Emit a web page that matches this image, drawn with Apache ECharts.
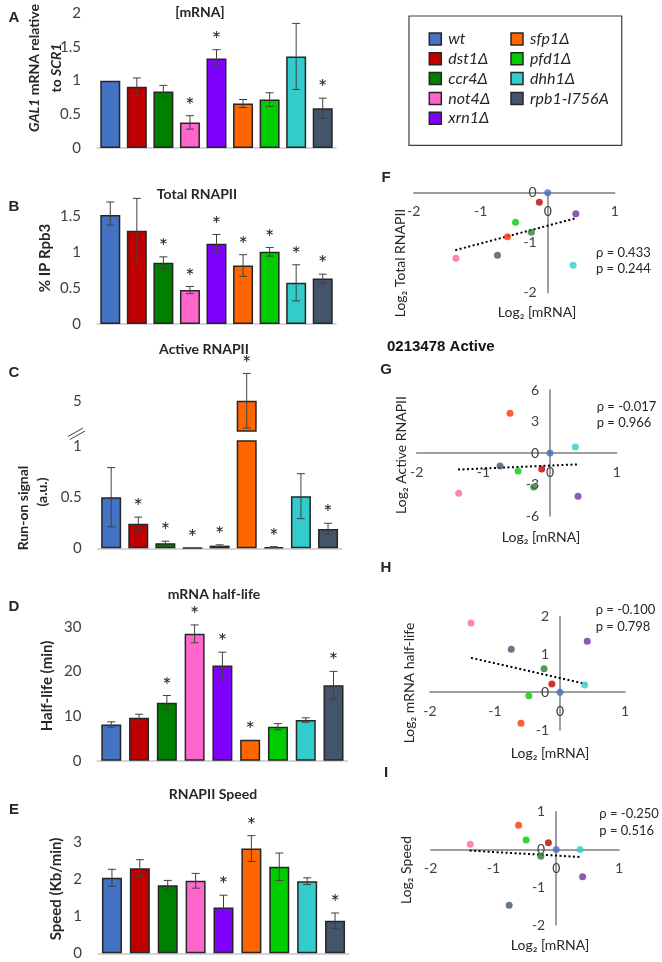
<!DOCTYPE html>
<html>
<head>
<meta charset="utf-8">
<script src="https://cdn.jsdelivr.net/npm/echarts@6/dist/echarts.min.js"></script>
<style>
html, body { margin: 0; background: #fff; }
#chart { width: 662px; height: 962px; }
</style>
</head>
<body>
<div id="chart"></div>
<script>
// strains and colours
var strains = ['wt', 'dst1Δ', 'ccr4Δ', 'not4Δ', 'xrn1Δ', 'sfp1Δ', 'pfd1Δ', 'dhh1Δ', 'rpb1-I756A'];
var barColors = ['#4472C4', '#C00000', '#008000', '#FF66CC', '#8000FF', '#FF6600', '#00CC00', '#33CCCC', '#44546A'];
var dotColors = ['#4472C4', '#C00000', '#2E7D32', '#FF6699', '#7030A0', '#FF3300', '#00CC00', '#33CCCC', '#44546A'];

// A - [mRNA]
var mrnaLevel = [1.00, 0.91, 0.84, 0.38, 1.33, 0.66, 0.72, 1.36, 0.59];
var mrnaErr   = [0, 0.13, 0.09, 0.10, 0.13, 0.06, 0.10, 0.49, 0.15];
var mrnaStar  = [0, 0, 0, 1, 1, 0, 0, 0, 1];
// B - total RNAPII
var totalPol  = [1.53, 1.29, 0.85, 0.47, 1.11, 0.81, 1.00, 0.57, 0.63];
var totalErr  = [0.16, 0.45, 0.08, 0.05, 0.13, 0.15, 0.06, 0.25, 0.06];
var totalStar = [0, 0, 1, 1, 1, 1, 1, 1, 1];
// C - active RNAPII (broken axis)
var activePol  = [0.50, 0.24, 0.05, 0.004, 0.026, 5.0, 0.012, 0.51, 0.19];
var activeErr  = [0.29, 0.065, 0.02, 0, 0.008, 0.27, 0.004, 0.22, 0.055];
var activeStar = [0, 1, 1, 1, 1, 1, 1, 0, 1];
// D - half-life
var halfLife = [8.1, 9.6, 13.0, 28.4, 21.3, 4.7, 7.6, 9.1, 16.9];
var halfErr  = [0.6, 0.8, 1.6, 2.0, 3.0, 0, 0.7, 0.5, 3.1];
var halfStar = [0, 0, 1, 1, 1, 1, 0, 0, 1];
// E - speed
var speed     = [2.04, 2.30, 1.84, 1.96, 1.24, 2.83, 2.34, 1.95, 0.88];
var speedErr  = [0.23, 0.23, 0.13, 0.20, 0.33, 0.35, 0.37, 0.09, 0.21];
var speedStar = [0, 0, 0, 0, 1, 1, 0, 0, 1];

// F-I scatter, log2 values
var logMrna   = [0, -0.125, -0.245, -1.37, 0.42, -0.60, -0.48, 0.38, -0.75];
var logTotal  = [0, -0.19, -0.79, -1.31, -0.42, -0.88, -0.59, -1.45, -1.25];
var logActive = [0, -1.52, -3.24, -3.84, -4.12, 3.78, -1.71, 0.57, -1.24];
var logHalf   = [0, 0.22, 0.62, 1.83, 1.35, -0.82, -0.09, 0.19, 1.14];
var logSpeed  = [0, 0.18, -0.18, 0.14, -0.72, 0.64, 0.25, 0, -1.48];
var trendF = [[-1.38, -1.15], [0.42, -0.51]];
var trendG = [[-1.38, -1.58], [0.42, -1.08]];
var trendH = [[-1.37, 0.91], [0.395, 0.22]];
var trendI = [[-1.38, -0.03], [0.40, -0.20]];
var statsF = ['ρ = 0.433', 'p = 0.244'];
var statsG = ['ρ = -0.017', 'p = 0.966'];
var statsH = ['ρ = -0.100', 'p = 0.798'];
var statsI = ['ρ = -0.250', 'p = 0.516'];

var FONT = "Lato, 'Open Sans', sans-serif";
var ARIAL = "'Liberation Sans', Arial, sans-serif";
var INK = '#262626';

var chart = echarts.init(document.getElementById('chart'));

var grids = [
  { left: 97, top: 13.3, width: 239, height: 134.7 },     // A
  { left: 97, top: 215.7, width: 239, height: 108.3 },    // B
  { left: 97.6, top: 370.4, width: 244, height: 60.6 },   // C upper
  { left: 97.6, top: 441, width: 244, height: 107.3 },    // C lower
  { left: 97.4, top: 626.7, width: 250, height: 134 },    // D
  { left: 98, top: 842.3, width: 251, height: 111 },      // E
  { left: 413.7, top: 192.7, width: 201, height: 100 },   // F
  { left: 416.7, top: 390, width: 200, height: 126 },     // G
  { left: 430, top: 616.7, width: 195, height: 113.3 },   // H
  { left: 430.7, top: 811.7, width: 188.3, height: 113.3 } // I
];
grids.forEach(function (g) { g.outerBoundsMode = 'none'; });

var xAxes = [], yAxes = [], series = [];

var barRanges = [
  { min: 0, max: 2, interval: 0.5 },
  { min: 0, max: 1.5, interval: 0.5 },
  { min: 4.7, max: 5.3, interval: 0.1 },
  { min: 0, max: 1.05, interval: 0.5 },
  { min: 0, max: 30, interval: 10 },
  { min: 0, max: 3, interval: 1 }
];
barRanges.forEach(function (r, i) {
  xAxes.push({
    type: 'category', gridIndex: i, data: strains,
    show: i !== 2,
    axisLabel: { show: false }, axisTick: { show: false },
    axisLine: { lineStyle: { color: '#c8c8c8', width: 1.5 } }
  });
  yAxes.push({
    type: 'value', gridIndex: i, min: r.min, max: r.max, interval: r.interval,
    splitLine: { show: false }, axisLine: { show: false }, axisTick: { show: false },
    axisLabel: {
      fontSize: 15, color: '#404040', fontFamily: FONT, margin: 16,
      showMaxLabel: i === 3 ? false : null,
      formatter: i === 2 ? function (v) { return Math.abs(v - 5) < 1e-6 ? '5' : ''; } : null
    }
  });
});

function barSeries(i, vals) {
  return {
    type: 'bar', xAxisIndex: i, yAxisIndex: i, barWidth: 20,
    itemStyle: { borderColor: INK, borderWidth: 1.5 },
    data: vals.map(function (v, k) {
      return { value: v, itemStyle: { color: barColors[k] } };
    })
  };
}

function errSeries(i, vals, errs, stars, keep) {
  var data = [];
  vals.forEach(function (v, k) {
    if (!keep || keep(v)) data.push([k, v, errs[k], stars[k]]);
  });
  return {
    type: 'custom', xAxisIndex: i, yAxisIndex: i, z: 5, data: data,
    renderItem: function (params, api) {
      var k = api.value(0), v = api.value(1), e = api.value(2), s = api.value(3);
      var top = api.coord([k, v + e]);
      var bot = api.coord([k, v - e]);
      var kids = [];
      if (e > 0) {
        var ls = { stroke: '#404040', lineWidth: 1 };
        kids.push({ type: 'line', shape: { x1: top[0], y1: top[1], x2: bot[0], y2: bot[1] }, style: ls });
        kids.push({ type: 'line', shape: { x1: top[0] - 4, y1: top[1], x2: top[0] + 4, y2: top[1] }, style: ls });
        kids.push({ type: 'line', shape: { x1: bot[0] - 4, y1: bot[1], x2: bot[0] + 4, y2: bot[1] }, style: ls });
      }
      if (s) {
        kids.push({
          type: 'text', x: top[0], y: top[1] - 10,
          style: { text: '*', fontSize: 22, fontFamily: FONT, fill: INK, align: 'center', verticalAlign: 'middle' }
        });
      }
      return { type: 'group', children: kids };
    }
  };
}

series.push(barSeries(0, mrnaLevel), errSeries(0, mrnaLevel, mrnaErr, mrnaStar));
series.push(barSeries(1, totalPol), errSeries(1, totalPol, totalErr, totalStar));
series.push(barSeries(2, activePol.map(function (v) { return v > 1.05 ? v : '-'; })),
            errSeries(2, activePol, activeErr, activeStar, function (v) { return v > 1.05; }));
series.push(barSeries(3, activePol),
            errSeries(3, activePol, activeErr, activeStar, function (v) { return v <= 1.05; }));
series.push(barSeries(4, halfLife), errSeries(4, halfLife, halfErr, halfStar));
series.push(barSeries(5, speed), errSeries(5, speed, speedErr, speedStar));

// scatter panels: axes cross at the origin
var scatterSets = [
  { g: 6, y: logTotal, yr: [-2, 0, 1], trend: trendF },
  { g: 7, y: logActive, yr: [-6, 6, 3], trend: trendG },
  { g: 8, y: logHalf, yr: [-1, 2, 1], trend: trendH },
  { g: 9, y: logSpeed, yr: [-2, 1, 1], trend: trendI }
];
var xr = [-2, 1];
var axisGray = { color: '#7f7f7f', width: 1.5 };
scatterSets.forEach(function (s) {
  var gr = grids[s.g];
  var xOff = -gr.height * (0 - s.yr[0]) / (s.yr[1] - s.yr[0]);
  var yOff = -gr.width * (0 - xr[0]) / (xr[1] - xr[0]);
  xAxes.push({
    type: 'value', gridIndex: s.g, min: xr[0], max: xr[1], interval: 1,
    position: 'bottom', offset: xOff,
    axisLine: { show: true, onZero: false, lineStyle: axisGray },
    axisTick: { show: false }, splitLine: { show: false },
    axisLabel: { fontSize: 14, color: '#404040', fontFamily: FONT, margin: 12 }
  });
  yAxes.push({
    type: 'value', gridIndex: s.g, min: s.yr[0], max: s.yr[1], interval: s.yr[2],
    position: 'left', offset: yOff,
    axisLine: { show: true, onZero: false, lineStyle: axisGray },
    axisTick: { show: false }, splitLine: { show: false },
    axisLabel: { fontSize: 14, color: '#404040', fontFamily: FONT, margin: 11 }
  });
  series.push({
    type: 'line', xAxisIndex: s.g, yAxisIndex: s.g, data: s.trend, symbol: 'none',
    lineStyle: { color: '#000', width: 2, type: [2, 2.5] }, z: 3, silent: true
  });
  series.push({
    type: 'scatter', xAxisIndex: s.g, yAxisIndex: s.g, symbolSize: 7, z: 4,
    data: logMrna.map(function (x, k) {
      return { value: [x, s.y[k]], itemStyle: { color: dotColors[k] } };
    })
  });
});

// texts and decorations
var graphics = [];
function txt(x, y, text, opt) {
  opt = opt || {};
  graphics.push({
    type: 'text', x: x, y: y, rotation: opt.rot || 0,
    style: {
      text: text, fill: opt.color || INK,
      fontSize: opt.size || 14, fontWeight: opt.weight || 'normal',
      fontStyle: opt.style || 'normal', fontFamily: opt.family || FONT,
      align: opt.align || 'center', verticalAlign: 'middle',
      rich: opt.rich, lineHeight: opt.lh
    }
  });
}
var letters = [['A', 14, 18], ['B', 14, 207], ['C', 14, 373], ['D', 14, 607], ['E', 14, 810],
               ['F', 386, 178], ['G', 386, 370], ['H', 386, 568], ['I', 386, 773]];
letters.forEach(function (l) { txt(l[1], l[2], l[0], { size: 15, weight: 'bold', family: ARIAL }); });

var titles = [['[mRNA]', 200, 12.5], ['Total RNAPII', 197, 194], ['Active RNAPII', 204, 349],
              ['mRNA half-life', 214, 594], ['RNAPII Speed', 213, 794]];
titles.forEach(function (t) { txt(t[1], t[2], t[0], { size: 14, weight: 'bold' }); });

var R = Math.PI / 2;
txt(45, 68, '{i|GAL1} mRNA relative\nto {i|SCR1}', {
  rot: R, size: 14, weight: 'bold', lh: 22,
  rich: { i: { fontStyle: 'italic', fontWeight: 'bold', fontSize: 14, fontFamily: FONT, fill: INK } }
});
txt(45, 258, '% IP Rpb3', { rot: R, size: 15, weight: 'bold' });
txt(23, 508, 'Run-on signal', { rot: R, size: 14, weight: 'bold' });
txt(42, 492, '(a.u.)', { rot: R, size: 14, weight: 'bold' });
txt(47, 686, 'Half-life (min)', { rot: R, size: 15, weight: 'bold' });
txt(56, 889, 'Speed (Kb/min)', { rot: R, size: 15, weight: 'bold' });

// broken axis mark
graphics.push({ type: 'line', shape: { x1: 68, y1: 436.5, x2: 83, y2: 428 }, style: { stroke: '#404040', lineWidth: 1 } });
graphics.push({ type: 'line', shape: { x1: 70, y1: 439.5, x2: 85, y2: 431 }, style: { stroke: '#404040', lineWidth: 1 } });

txt(387, 347, '0213478 Active', { size: 15, weight: 'bold', family: ARIAL, align: 'left', color: '#111' });

// scatter axis names and stats
var xNames = [[537, 312], [541, 537], [550, 753], [550, 945]];
xNames.forEach(function (p) { txt(p[0], p[1], 'Log₂ [mRNA]', { size: 14 }); });
txt(400, 263, 'Log₂ Total RNAPII', { rot: R, size: 14 });
txt(401, 455, 'Log₂ Active RNAPII', { rot: R, size: 14 });
txt(409, 683, 'Log₂ mRNA half-life', { rot: R, size: 14 });
txt(406, 870, 'Log₂ Speed', { rot: R, size: 14 });
var statPos = [[statsF, 596, 252.7], [statsG, 596.7, 406.7], [statsH, 595.7, 610], [statsI, 599.3, 814]];
statPos.forEach(function (s) {
  txt(s[1], s[2], s[0][0], { size: 13, align: 'left' });
  txt(s[1], s[2] + 16.6, s[0][1], { size: 13, align: 'left' });
});

// legend box
graphics.push({ type: 'rect', shape: { x: 409, y: 16, width: 212.7, height: 129.3 },
  style: { fill: 'none', stroke: '#404040', lineWidth: 1.2 } });
strains.forEach(function (name, k) {
  var col = k < 5 ? 0 : 1, row = k < 5 ? k : k - 5;
  var sx = col ? 511 : 429.3, ty = 39 + row * 19.8;
  graphics.push({ type: 'rect', shape: { x: sx, y: ty - 6, width: 12, height: 12 },
    style: { fill: barColors[k], stroke: INK, lineWidth: 1.5 } });
  txt(sx + 19, ty, name, { size: 16, style: 'italic', align: 'left' });
});

chart.setOption({
  animation: false,
  grid: grids,
  xAxis: xAxes,
  yAxis: yAxes,
  series: series,
  graphic: graphics
});
</script>
</body>
</html>
